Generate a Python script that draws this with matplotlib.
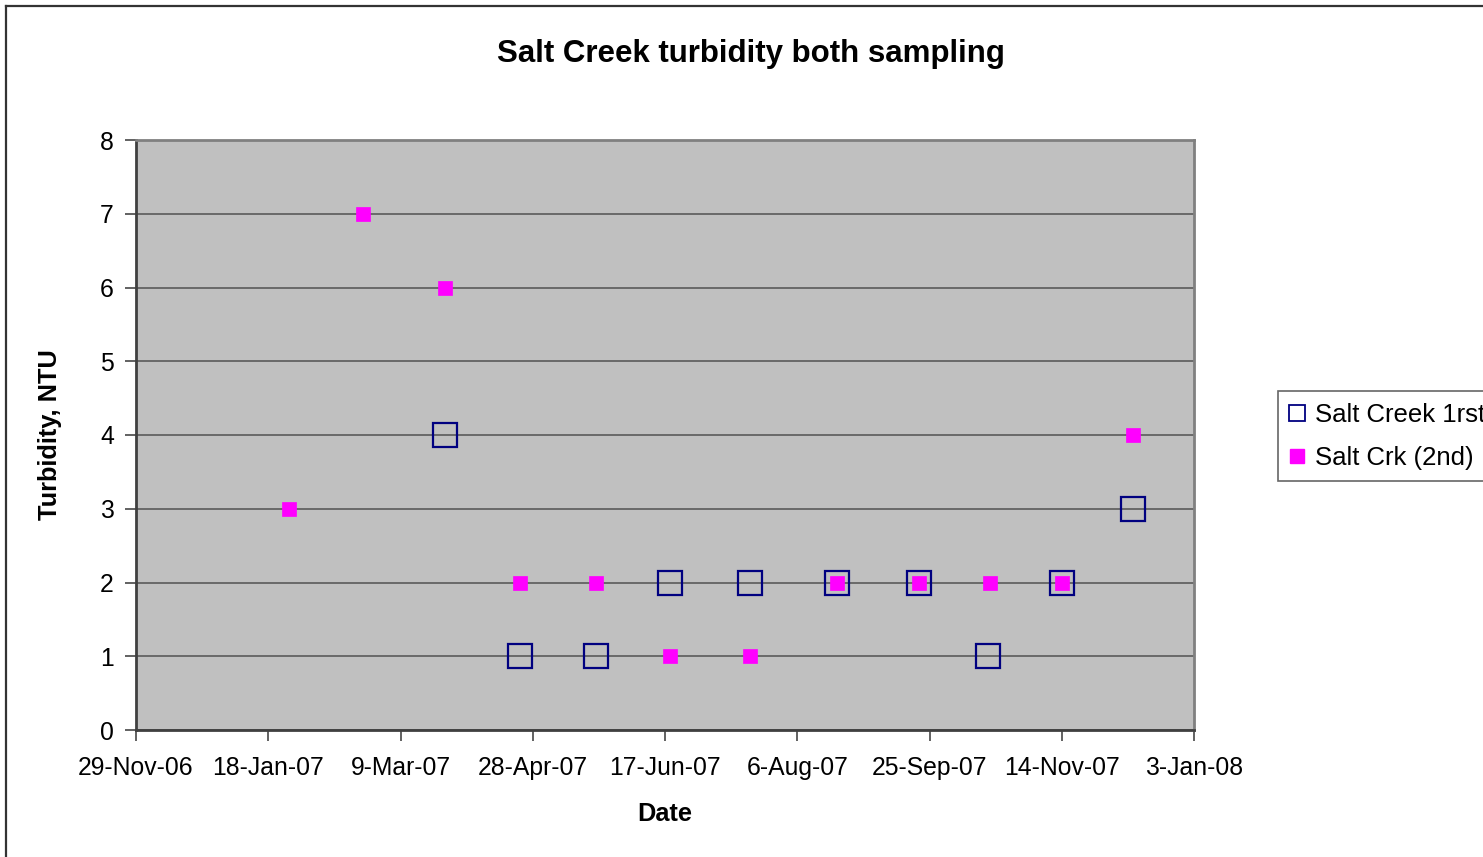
import numpy as np
import matplotlib.pyplot as plt
import matplotlib.dates as mdates
from matplotlib.lines import Line2D
import datetime as dt

plt.rcParams['font.family'] = ['Liberation Sans', 'DejaVu Sans']

# prima campionatura (quadrati blu vuoti)
date1 = ['2007-03-26', '2007-04-23', '2007-05-22', '2007-06-19', '2007-07-19',
         '2007-08-21', '2007-09-21', '2007-10-17', '2007-11-14', '2007-12-11']
turb1 = [4, 1, 1, 2, 2, 2, 2, 1, 2, 3]

# seconda campionatura (quadrati magenta pieni)
date2 = ['2007-01-26', '2007-02-23', '2007-03-26', '2007-04-23', '2007-05-22', '2007-06-19',
         '2007-07-19', '2007-08-21', '2007-09-21', '2007-10-18', '2007-11-14', '2007-12-11']
turb2 = [3, 7, 6, 2, 2, 1, 1, 2, 2, 2, 2, 4]

xstart = dt.date(2006, 11, 29)
xend = dt.date(2008, 1, 3)
xticks = [xstart + dt.timedelta(days=50 * i) for i in range(9)]

d1 = [dt.datetime.strptime(s, '%Y-%m-%d') for s in date1]
d2 = [dt.datetime.strptime(s, '%Y-%m-%d') for s in date2]

fig = plt.figure(figsize=(14.83, 8.57), dpi=100)
ax = fig.add_axes([136 / 1483, 1 - 730 / 857, 1058 / 1483, 590 / 857])
ax.set_facecolor('#C0C0C0')

ax.plot(d1, turb1, linestyle='none', marker='s', markersize=17.5,
        markerfacecolor='none', markeredgecolor='#000080', markeredgewidth=1.6,
        label='Salt Creek 1rst', zorder=3)
ax.plot(d2, turb2, linestyle='none', marker='s', markersize=10,
        markerfacecolor='#FF00FF', markeredgecolor='#FF00FF', markeredgewidth=0.5,
        label='Salt Crk (2nd)', zorder=4)

ax.set_xlim(mdates.date2num(xstart), mdates.date2num(xend))
ax.set_ylim(0, 8)
ax.set_yticks(range(0, 9))
ax.set_xticks([mdates.date2num(t) for t in xticks])
ax.set_xticklabels([f"{t.day}-{t.strftime('%b-%y')}" for t in xticks])
ax.yaxis.grid(True, color='#5a5a5a', linewidth=1.2)
ax.set_axisbelow(True)

ax.tick_params(axis='both', labelsize=17.8, direction='out', length=8, width=1.3, color='#555555')
ax.tick_params(axis='y', pad=8)
ax.tick_params(axis='x', pad=11)
for s in ['top', 'right']:
    ax.spines[s].set_color('#808080')
    ax.spines[s].set_linewidth(2)
for s in ['left', 'bottom']:
    ax.spines[s].set_color('#404040')
    ax.spines[s].set_linewidth(2)

fig.text(751 / 1483, 1 - 54 / 857, 'Salt Creek turbidity both sampling',
         fontsize=22.5, fontweight='bold', ha='center', va='center')
fig.text(665 / 1483, 1 - 814 / 857, 'Date', fontsize=18.3, fontweight='bold',
         ha='center', va='center')
fig.text(50 / 1483, 1 - 435 / 857, 'Turbidity, NTU', fontsize=18.3, fontweight='bold',
         ha='center', va='center', rotation=90)

leg = fig.legend(handles=[
    Line2D([], [], linestyle='none', marker='s', markersize=12, markerfacecolor='none',
           markeredgecolor='#000080', markeredgewidth=1.3, label='Salt Creek 1rst'),
    Line2D([], [], linestyle='none', marker='s', markersize=10, markerfacecolor='#FF00FF',
           markeredgecolor='#FF00FF', label='Salt Crk (2nd)')],
    loc='upper left', bbox_to_anchor=(1278 / 1483, 1 - 391 / 857),
    fontsize=18.5, frameon=True, fancybox=False, edgecolor='#404040',
    handlelength=0.6, handletextpad=0.4, borderpad=0.45, labelspacing=0.75,
    borderaxespad=0)
leg.get_frame().set_linewidth(1.2)

# bordo del grafico (solo sinistra e sopra visibili)
fig.add_artist(Line2D([6 / 1483, 6 / 1483], [0, 1 - 6 / 857], transform=fig.transFigure,
                      color='#333333', linewidth=1.6))
fig.add_artist(Line2D([6 / 1483, 1], [1 - 6 / 857, 1 - 6 / 857], transform=fig.transFigure,
                      color='#333333', linewidth=1.6))

fig.savefig('out.png', dpi=100)
